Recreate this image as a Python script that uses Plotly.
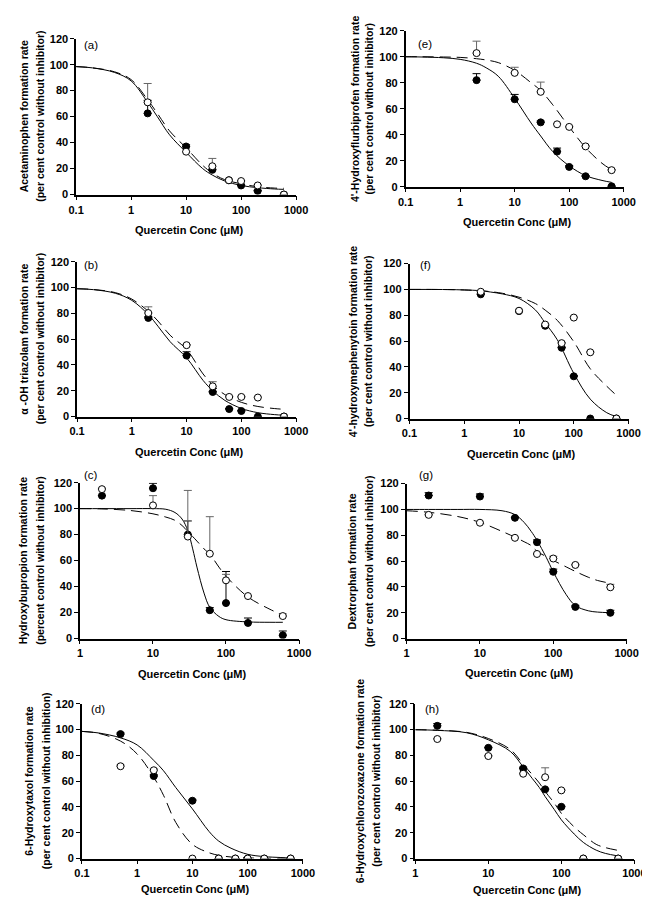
import plotly.graph_objects as go

W, H = 650, 897

# ---------------- data ----------------
# (a) Acetaminophen
a_conc = [2, 10, 30, 60, 100, 200, 600]
a_filled = [62.5, 37, 19, 11, 7, 2.8, 0]
a_filled_err = [10, 1.3, 0.5, 0.5, 0.5, 0.5, 0]
a_open = [71, 33, 21.8, 11, 10.4, 7, 0]
a_open_err = [14.5, 0, 6, 0.5, 0.5, 0.5, 0]
a_curve_x = [0.1, 0.2, 0.5, 1, 2, 3, 5, 10, 20, 30, 50, 100, 200, 400, 600]
a_solid = [98.5, 97.5, 94, 87.5, 71, 60, 46, 32.5, 20, 15, 10.5, 7, 5.3, 4.3, 4]
a_dashed = [98.5, 97.5, 94.5, 88.5, 73, 62.5, 49, 36, 22.5, 16.5, 11.5, 8.3, 6, 5, 4.8]

# (b) alpha-OH triazolam
b_conc = [2, 10, 30, 60, 100, 200, 600]
b_filled = [76.4, 47.2, 19, 5.8, 4.3, 0, 0]
b_filled_err = [1, 3, 0.5, 0.5, 0.5, 0, 0]
b_open = [80.2, 55.3, 23.4, 15.2, 15.2, 14.7, 0]
b_open_err = [4.8, 0.5, 3.6, 0.5, 0.5, 0.5, 0]
b_curve_x = [0.1, 0.2, 0.5, 1, 2, 3, 5, 10, 20, 30, 50, 100, 200, 400, 600]
b_solid = [99, 98.3, 95.5, 90, 79, 70, 58, 45.5, 28, 20, 12.5, 6.3, 3, 1.5, 1]
b_dashed = [99, 98.4, 96, 91, 81.5, 74, 63, 52, 33, 24.5, 17, 11, 7.8, 6.2, 5.6]

# (c) Hydroxybupropion
c_conc = [2, 10, 30, 60, 100, 200, 600]
c_filled = [110, 115.7, 80, 21.8, 27.3, 12, 2.5]
c_filled_err = [0, 3.8, 10.5, 2, 24.3, 3.8, 3.3]
c_open = [115, 102.5, 78.5, 65.3, 44.8, 32.7, 17.3]
c_open_err = [0.8, 7.5, 35.5, 28.5, 4.6, 0, 1.7]
c_curve_x = [1, 2, 5, 10, 15, 20, 25, 30, 35, 40, 50, 60, 80, 100, 200, 400, 600]
c_solid = [100, 100, 100, 100, 99.5, 97, 92, 83, 69, 55, 35, 24, 17, 14.5, 12.8, 12.5, 12.5]
c_dashed = [100, 99.8, 98.5, 96, 93.5, 91, 87, 82.5, 78.5, 75, 69, 65, 55, 48, 32, 22.5, 18]

# (d) 6-Hydroxytaxol
d_conc = [0.5, 2, 10, 30, 60, 100, 200, 600]
d_filled = [96.4, 63.9, 44.8, 0, 0, 0, 0, 0]
d_filled_err = [1, 1, 1, 0, 0, 0, 0, 0]
d_open = [71.5, 68.4, 0, 0, 0, 0, 0, 0]
d_open_err = [1, 1, 0, 0, 0, 0, 0, 0]
d_curve_x = [0.1, 0.2, 0.5, 1, 2, 3, 5, 10, 20, 30, 50, 100, 200, 400, 600]
d_solid = [98.5, 97.3, 93.5, 88, 76, 68, 55, 38.5, 21, 13.5, 8, 3.3, 1.5, 0.8, 0.5]
d_dashed = [98.5, 97, 91, 81, 63, 49, 28, 11, 4.5, 2.5, 1.2, 0.5, 0.2, 0.1, 0]

# (e) 4'-Hydroxyflurbiprofen
e_conc = [2, 10, 30, 60, 100, 200, 600]
e_filled = [82, 67.3, 49.5, 27, 15.2, 8, 0.3]
e_filled_err = [5, 3.7, 1, 2.7, 1, 0.5, 0]
e_open = [102.8, 87.6, 73, 48, 46, 31, 12.7]
e_open_err = [9.2, 4.3, 7.5, 0.5, 0.5, 0.5, 0.5]
e_curve_x = [0.1, 0.2, 0.5, 1, 2, 3, 5, 10, 20, 30, 50, 100, 200, 400, 600]
e_solid = [100, 99.8, 99.2, 98, 95, 91.5, 85, 68, 49, 39, 27, 16, 8.5, 4.8, 3.3]
e_dashed = [100, 100, 99.8, 99.5, 98.5, 97.5, 95.5, 89.5, 80, 74, 63, 46, 30, 18, 13]

# (f) 4'-hydroxymephenytoin
f_conc = [2, 10, 30, 60, 100, 200, 600]
f_filled = [96.2, 83.2, 71.8, 54.8, 32.7, 0, 0]
f_filled_err = [0.5, 0.5, 0.5, 0.5, 0.5, 0, 0]
f_open = [98.2, 83.5, 72.8, 58.4, 78.2, 51.3, 0]
f_open_err = [0.5, 0.5, 0.5, 0.5, 0.5, 0.5, 0]
f_curve_x = [0.1, 0.2, 0.5, 1, 2, 3, 5, 10, 20, 30, 50, 100, 200, 400, 600]
f_solid = [100, 100, 99.9, 99.6, 99, 98, 96.5, 93, 84, 74, 61, 35, 15, 4.5, 1.5]
f_dashed = [100, 100, 99.9, 99.6, 99, 98.3, 97, 94, 89, 84, 76, 59.5, 38.5, 25, 18]

# (g) Dextrorphan
g_conc = [2, 10, 30, 60, 100, 200, 600]
g_filled = [110.8, 110, 93.5, 74.6, 51.7, 24.5, 19.9]
g_filled_err = [2.2, 2, 0.5, 1.8, 2.1, 1.2, 2]
g_open = [95.8, 89.7, 78, 65.5, 62, 57, 39.7]
g_open_err = [0.5, 0.5, 0.5, 0.5, 1.7, 0.5, 2.3]
g_curve_x = [1, 2, 5, 10, 20, 30, 40, 50, 60, 80, 100, 150, 200, 300, 400, 600]
g_solid = [100, 100, 100, 100, 99, 96, 90, 83, 76, 63, 51.7, 34, 25.5, 21.5, 20.5, 20]
g_dashed = [99, 97.8, 94.5, 90, 83, 78.5, 75, 72, 67.5, 63.5, 60.5, 55.5, 52, 47.5, 45, 42.8]

# (h) 6-Hydroxychlorozoxazone
h_conc = [2, 10, 30, 60, 100, 200, 600]
h_filled = [102.8, 85.8, 69.8, 53.6, 40.1, 0, 0]
h_filled_err = [1.8, 0.5, 1, 0.5, 0.5, 0, 0]
h_open = [92.6, 79.4, 65.7, 63, 52.8, 0, 0]
h_open_err = [0.5, 0.5, 0.5, 7.3, 0.5, 0, 0]
h_curve_x = [1, 2, 5, 10, 20, 30, 40, 50, 60, 80, 100, 150, 200, 300, 400, 600]
h_solid = [99.8, 99.3, 97.5, 92, 83, 71, 62, 55, 48, 38, 30, 19, 12.5, 6.5, 4, 2]
h_dashed = [99.8, 99.4, 97.8, 93, 84.5, 73, 65, 58.5, 52, 43, 35, 24.5, 18.5, 11, 8.5, 6.3]

y_ticks = [0, 20, 40, 60, 80, 100, 120]
x_ticks_01 = [0.1, 1, 10, 100, 1000]
x_ticks_1 = [1, 10, 100, 1000]
x_title = "Quercetin Conc (μM)"

# ---------------- panels ----------------
FONT = "Liberation Sans, Arial, sans-serif"

panels = [
    # letter, conc, filled, ferr, open, oerr, cx, solid, dashed, line1, line2, xlog0,
    # pixel box (x0, x1, ytop, ybot), y-title line x positions, x-title y, letter pos
    ("a", a_conc, a_filled, a_filled_err, a_open, a_open_err, a_curve_x, a_solid, a_dashed,
     "Acetaminophen formation rate", "(per cent control without inhibitor)", -1,
     (62, 289, 25, 183), (8, 24), 219, (68, 31)),
    ("b", b_conc, b_filled, b_filled_err, b_open, b_open_err, b_curve_x, b_solid, b_dashed,
     "α -OH triazolam formation rate", "(per cent control without inhibitor)", -1,
     (63, 289, 251, 408), (8, 25), 444, (68, 254)),
    ("c", c_conc, c_filled, c_filled_err, c_open, c_open_err, c_curve_x, c_solid, c_dashed,
     "Hydroxybupropion formation rate", "(percent control without inhibitor)", 0,
     (66, 292, 475, 633), (7, 24), 669, (68, 467)),
    ("d", d_conc, d_filled, d_filled_err, d_open, d_open_err, d_curve_x, d_solid, d_dashed,
     "6-Hydroxytaxol formation rate", "(per cent control without inhibition)", -1,
     (68, 296, 699, 856), (14, 31), 887, (75, 704)),
    ("e", e_conc, e_filled, e_filled_err, e_open, e_open_err, e_curve_x, e_solid, e_dashed,
     "4'-Hydroxyflurbiprofen formation rate", "(per cent control without inhibitor)", -1,
     (402, 627, 17, 175), (349, 364), 211, (413, 30)),
    ("f", f_conc, f_filled, f_filled_err, f_open, f_open_err, f_curve_x, f_solid, f_dashed,
     "4'-hydroxymephenytoin formation rate", "(per cent control without inhibitor)", -1,
     (406, 632, 253, 410), (348, 363), 446, (415, 254)),
    ("g", g_conc, g_filled, g_filled_err, g_open, g_open_err, g_curve_x, g_solid, g_dashed,
     "Dextrorphan formation rate", "(per cent control without inhibitor)", 0,
     (403, 630, 476, 633), (347, 364), 668, (414, 467)),
    ("h", h_conc, h_filled, h_filled_err, h_open, h_open_err, h_curve_x, h_solid, h_dashed,
     "6-Hydroxychlorozoxazone formation rate", "(per cent control without inhibitor)", 0,
     (412, 638, 699, 856), (355, 372), 888, (420, 704)),
]

fig = go.Figure()
annotations = []
layout_axes = {}

for i, (letter, conc, filled, ferr, opn, oerr, cx, solid, dashed, t1, t2, xlog0,
        box, ytx, xty, lpos) in enumerate(panels, start=1):
    xa = "x" if i == 1 else f"x{i}"
    ya = "y" if i == 1 else f"y{i}"
    x0, x1, yt, yb = box
    xdom = [x0 / W, x1 / W]
    ydom = [1 - yb / H, 1 - yt / H]

    # fitted curves
    fig.add_trace(go.Scatter(x=cx, y=solid, mode="lines", xaxis=xa, yaxis=ya,
                             line=dict(color="black", width=1, shape="spline"),
                             hoverinfo="skip"))
    fig.add_trace(go.Scatter(x=cx, y=dashed, mode="lines", xaxis=xa, yaxis=ya,
                             line=dict(color="black", width=1, shape="spline", dash="11px,6px"),
                             hoverinfo="skip"))
    # filled points
    fig.add_trace(go.Scatter(x=conc, y=filled, mode="markers", xaxis=xa, yaxis=ya,
                             marker=dict(color="black", size=7, line=dict(color="black", width=1)),
                             error_y=dict(type="data", symmetric=False, array=ferr,
                                          arrayminus=[0] * len(ferr), color="black",
                                          thickness=1, width=4)))
    # open points
    fig.add_trace(go.Scatter(x=conc, y=opn, mode="markers", xaxis=xa, yaxis=ya,
                             marker=dict(color="white", size=7, line=dict(color="black", width=1)),
                             error_y=dict(type="data", symmetric=False, array=oerr,
                                          arrayminus=[0] * len(oerr), color="#666666",
                                          thickness=1, width=4)))

    xticks = x_ticks_01 if xlog0 == -1 else x_ticks_1
    layout_axes["xaxis" if i == 1 else f"xaxis{i}"] = dict(
        type="log", range=[xlog0, 3], domain=xdom, anchor=ya,
        tickvals=xticks, ticktext=[f"{v:g}" for v in xticks],
        showgrid=False, zeroline=False, showline=True, linecolor="black", linewidth=1.5,
        ticks="outside", ticklen=4, tickcolor="black", tickwidth=1,
        tickfont=dict(family=FONT, size=11, color="black", weight="bold"),
    )
    layout_axes["yaxis" if i == 1 else f"yaxis{i}"] = dict(
        range=[0, 120], domain=ydom, anchor=xa,
        tickvals=y_ticks, ticktext=[str(v) for v in y_ticks],
        showgrid=False, zeroline=False, showline=True, linecolor="black", linewidth=1.5,
        ticks="outside", ticklen=4, tickcolor="black", tickwidth=1,
        tickfont=dict(family=FONT, size=11, color="black", weight="bold"),
    )

    ymid = 1 - (yt + yb) / 2 / H
    for tx, txt in zip(ytx, (t1, t2)):
        annotations.append(dict(
            x=tx / W, y=ymid, xref="paper", yref="paper", text=txt, showarrow=False,
            textangle=-90, xanchor="center", yanchor="middle",
            font=dict(family=FONT, size=10.5, color="black", weight="bold")))
    annotations.append(dict(
        x=((x0 + x1) / 2 + 3) / W, y=1 - xty / H, xref="paper", yref="paper",
        text=x_title, showarrow=False, xanchor="center", yanchor="middle",
        font=dict(family=FONT, size=11, color="black", weight="bold")))
    annotations.append(dict(
        x=lpos[0] / W, y=1 - lpos[1] / H, xref="paper", yref="paper",
        text=f"({letter})", showarrow=False, xanchor="left", yanchor="middle",
        font=dict(family=FONT, size=11.5, color="black")))

fig.update_layout(
    width=W, height=H, margin=dict(l=0, r=0, t=0, b=0),
    paper_bgcolor="white", plot_bgcolor="white", showlegend=False,
    annotations=annotations, **layout_axes,
)

fig.write_html("out.html")
